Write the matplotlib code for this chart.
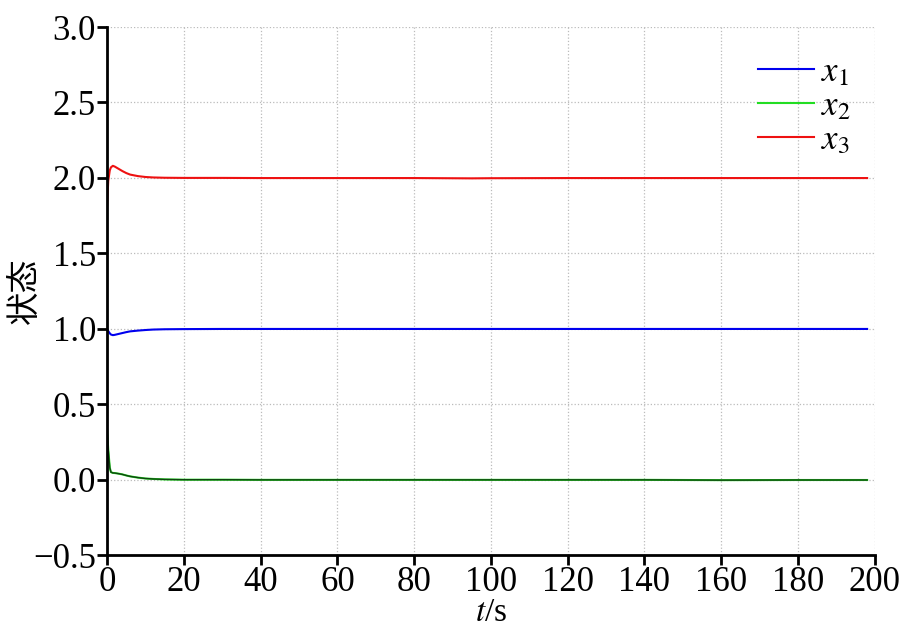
import matplotlib
matplotlib.use("Agg")
import matplotlib.pyplot as plt
import numpy as np

t = [0, 0.3, 0.7, 1.0, 1.5, 2.0, 3.0, 4.0, 5.0, 6.0, 8.0, 10.0, 12.0, 15.0, 20.0, 30.0, 40.0, 60.0, 80.0, 95.0, 100.0, 120.0, 140.0, 160.0, 180.0, 198.0]
x1 = [1.0, 0.985, 0.97, 0.962, 0.958, 0.96, 0.966, 0.972, 0.978, 0.983, 0.988, 0.992, 0.995, 0.997, 0.998, 0.999, 0.999, 0.999, 0.999, 0.999, 0.999, 0.999, 0.999, 0.999, 0.999, 0.999]
x2 = [0.33, 0.2, 0.08, 0.05, 0.045, 0.044, 0.04, 0.035, 0.028, 0.022, 0.014, 0.008, 0.005, 0.002, 0.0, 0.0, -0.001, -0.001, -0.001, -0.001, -0.001, -0.001, -0.001, -0.003, -0.002, -0.002]
x3 = [1.82, 1.98, 2.05, 2.07, 2.08, 2.075, 2.06, 2.045, 2.032, 2.022, 2.012, 2.006, 2.003, 2.001, 2.0, 2.0, 1.999, 1.999, 1.999, 1.997, 1.998, 1.999, 1.999, 1.999, 1.999, 1.999]

xticks = [0, 20, 40, 60, 80, 100, 120, 140, 160, 180, 200]
yticks = [-0.5, 0.0, 0.5, 1.0, 1.5, 2.0, 2.5, 3.0]
ytick_labels = ["\u22120.5", "0.0", "0.5", "1.0", "1.5", "2.0", "2.5", "3.0"]

plt.rcParams['font.family'] = ['Liberation Serif', 'Noto Sans CJK SC', 'DejaVu Sans']
plt.rcParams['mathtext.fontset'] = 'stix'

fig = plt.figure(figsize=(9, 6.28), dpi=100)
ax = fig.add_axes([0.119, 0.116, 0.853, 0.841])

ax.plot(t, x1, color='#0000ee', lw=1.5, label='$x_1$')
ax.plot(t, x2, color='#22dd22', lw=1.5, label='$x_2$')
ax.plot(t, x2, color='#114411', lw=1.0)
ax.plot(t, x3, color='#ee1111', lw=1.5, label='$x_3$')

ax.set_xlim(0, 200)
ax.set_ylim(-0.5, 3.0)
ax.set_xticks(xticks)
ax.set_yticks(yticks)
ax.set_yticklabels(ytick_labels)
ax.grid(True, color='#bbbbbb', linestyle=':', linewidth=0.9)
ax.spines['top'].set_visible(False)
ax.spines['right'].set_visible(False)
ax.spines['left'].set_linewidth(2)
ax.spines['bottom'].set_linewidth(2)
ax.tick_params(direction='out', length=7, width=2, labelsize=25, pad=1)

ax.set_xlabel('$t$/s', fontsize=24)
ax.xaxis.set_label_coords(0.5, -0.081)
ax.set_ylabel('状态', fontsize=24, family=['Noto Sans CJK SC'])
ax.yaxis.set_label_coords(-0.085, 0.5)

leg = ax.legend(loc='upper right', fontsize=25, frameon=False, handlelength=1.6,
                handletextpad=0.2, labelspacing=0.02, borderaxespad=0.3,
                bbox_to_anchor=(1.0, 0.99))

fig.savefig('out.png', dpi=100)
